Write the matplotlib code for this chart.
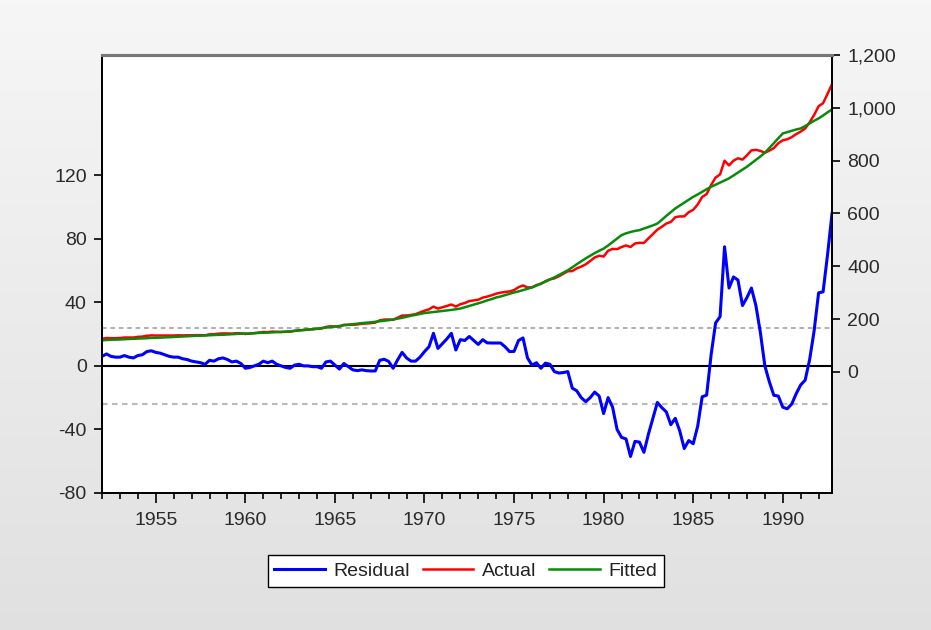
import numpy as np
import matplotlib
matplotlib.use("Agg")
import matplotlib.pyplot as plt
from matplotlib.ticker import FuncFormatter, MultipleLocator

plt.rcParams['font.family'] = ['Liberation Sans', 'DejaVu Sans']
plt.rcParams['axes.unicode_minus'] = False

# quarterly sample 1952Q1 - 1992Q4
start_year = 1952
n_years = 41

# residual (left axis), one row per year, Q1..Q4
residual = [
    6, 7.5, 6, 5.5,
    5.5, 6.5, 5.5, 5,
    6.5, 7, 9, 9.5,
    8.5, 8, 7, 6,
    5.5, 5.5, 4.5, 4,
    3, 2.5, 2, 1,
    3.5, 3, 4.5, 5,
    4, 2.5, 3, 1.5,
    -1.5, -1, 0, 1,
    3, 2, 3, 1,
    0, -1, -1.5, 0.5,
    1, 0, 0, -0.5,
    -0.5, -1.5, 2.5, 3,
    0.5, -2, 1.5, -0.5,
    -2.5, -3, -2.5, -3,
    -3.2, -3.2, 3.5, 4.2,
    2.8, -1.5, 3.8, 8.5,
    5, 3, 3, 5.5,
    9, 12, 20.5, 11,
    14, 17, 20.5, 10,
    16.5, 16, 18.5, 16,
    13.5, 16.5, 14.5, 14.4,
    14.4, 14.4, 12, 9,
    9.1, 16, 17.6, 5,
    0.5, 2, -1.5, 1.7,
    1, -3.6, -4.5, -4.2,
    -3.6, -14, -15.7, -20,
    -22.5, -20, -16.5, -19,
    -30, -20, -26, -40,
    -45, -46, -57, -47.5,
    -48, -54.4, -43, -33,
    -23, -26.3, -29, -37,
    -33, -41, -52, -47,
    -49, -38, -19.5, -18.4,
    7, 27, 31, 75,
    49, 56, 54, 38,
    43, 49, 38, 21,
    0, -10, -18.5, -19,
    -26, -27, -24, -17.5,
    -12, -9, 4, 22,
    46, 46.6, 70, 96,
]

# fitted (right axis)
fitted = [
    120, 121, 122, 122.5,
    123, 124, 125, 125.5,
    126.5, 127, 128, 129,
    129.5, 130, 131, 132,
    132.6, 133.5, 134, 135,
    136, 137, 137.5, 138,
    139, 140, 140.5, 141,
    142, 143, 144, 145,
    145.5, 146, 147, 148,
    148.5, 149, 150, 151,
    151.5, 153, 154, 155.5,
    157, 159, 160.5, 162,
    164, 166, 168, 170,
    172, 174, 177, 179,
    181, 183, 185, 186.5,
    188, 190, 192, 194,
    196, 199, 202, 205,
    209, 213, 216, 220,
    223, 225, 227, 229,
    231, 233, 235, 237.5,
    240, 245, 250, 255,
    260, 265, 271, 276,
    282, 286, 291, 296,
    301, 305, 310, 315,
    320, 327, 335, 342,
    350, 358, 367, 376,
    385, 396, 408, 419,
    430, 440, 450, 459,
    467, 479, 492, 505,
    518, 525, 530, 534,
    537, 543, 549, 555,
    562, 576, 591, 605,
    619, 630, 641, 652,
    663, 672, 682, 692,
    701, 709, 717, 725,
    733, 744, 755, 766,
    777, 790, 803, 816,
    830, 848, 866, 885,
    903, 908, 913, 918,
    922, 931, 941, 951,
    960, 971, 983, 994,
]

se_band = 24.1  # +/- 1 S.E. of regression

resid = np.array(residual)
fit = np.array(fitted)
actual = fit + resid
t = start_year + np.arange(len(resid)) / 4.0

fig = plt.figure(figsize=(9.31, 6.30), dpi=100)

# grey gradient background
bg = fig.add_axes([0, 0, 1, 1], zorder=-10)
grad = np.linspace(0.965, 0.88, 256).reshape(-1, 1)
bg.imshow(np.dstack([grad, grad, grad]), aspect='auto', extent=[0, 1, 0, 1])
bg.set_axis_off()

ax = fig.add_axes([0.1096, 0.2175, 0.7841, 0.6952])
ax.set_facecolor('white')
ax2 = ax.twinx()

# residual + bands on left axis
ax.axhline(0, color='black', lw=1.5, zorder=2)
ax.axhline(se_band, color='#999999', lw=1.1, ls=(0, (3, 2.5)), zorder=2)
ax.axhline(-se_band, color='#bbbbbb', lw=1.6, ls=(0, (2.5, 2)), zorder=2)
l_res, = ax.plot(t, resid, color='#0000ff', lw=2.2, zorder=3, label='Residual')

l_act, = ax2.plot(t, actual, color='#ff0000', lw=1.8, label='Actual')
l_fit, = ax2.plot(t, fit, color='#0a8a0a', lw=1.8, label='Fitted')

ax.set_xlim(start_year, start_year + n_years - 0.25)
ax.set_ylim(-80, 195.7)
ax2.set_ylim(-458, 1200)

ax.set_yticks([-80, -40, 0, 40, 80, 120])
ax2.set_yticks([0, 200, 400, 600, 800, 1000, 1200])
ax2.yaxis.set_major_formatter(FuncFormatter(lambda v, p: f"{int(v):,}"))

ax.xaxis.set_major_locator(MultipleLocator(5))
ax.xaxis.set_minor_locator(MultipleLocator(1))
ax.set_xticks(range(1955, 1991, 5))

for a in (ax, ax2):
    for side in ('left', 'right', 'bottom'):
        a.spines[side].set_color('black')
        a.spines[side].set_linewidth(1.3)
    a.spines['top'].set_color('#777777')
    a.spines['top'].set_linewidth(2.2)

ax.tick_params(axis='both', which='major', direction='out', length=6, width=1.2,
               labelsize=14, colors='black', labelcolor='#2a2a2a', pad=5)
ax.tick_params(axis='x', which='minor', direction='out', length=4, width=1.2)
ax.tick_params(axis='x', which='major', length=7, pad=7)
ax2.tick_params(axis='y', direction='out', length=6, width=1.2,
                labelsize=14, labelcolor='#2a2a2a', pad=5)

fig.legend(handles=[l_res, l_act, l_fit], loc='center', ncol=3,
           bbox_to_anchor=(0.5005, 0.0937), fontsize=14, frameon=True,
           fancybox=False, edgecolor='black', framealpha=1,
           handlelength=2.6, handletextpad=0.45, columnspacing=0.65,
           borderpad=0.35, labelcolor='#222222')

fig.savefig('out.png', dpi=100)
